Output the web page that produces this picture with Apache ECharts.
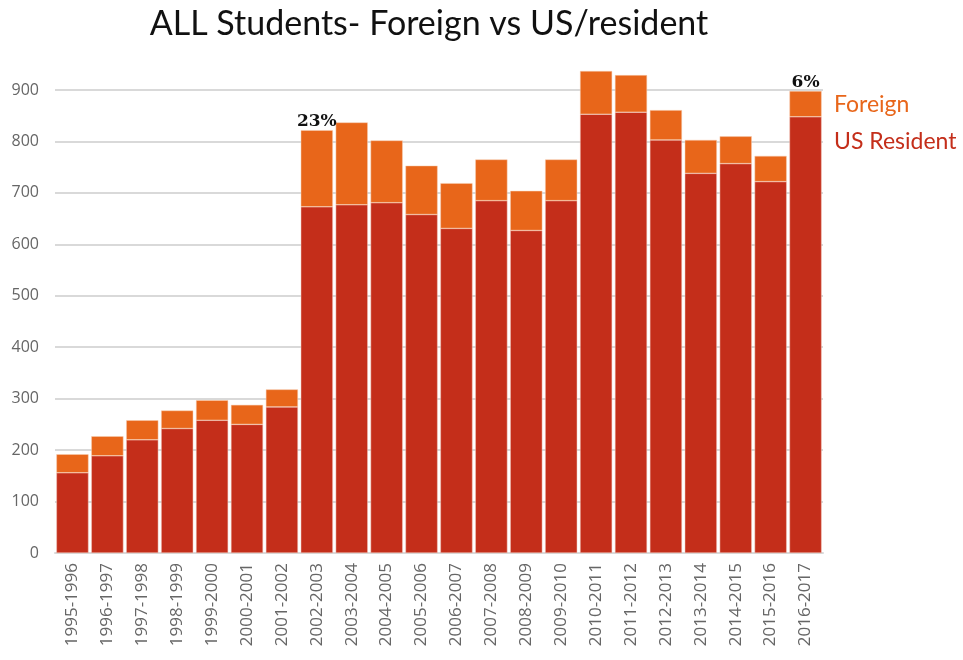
<!DOCTYPE html>
<html>
<head>
<meta charset="utf-8">
<script src="https://cdn.jsdelivr.net/npm/echarts@6/dist/echarts.min.js"></script>
<style>
  html, body { margin: 0; padding: 0; background: #fff; }
  #chart { width: 963px; height: 660px; }
</style>
</head>
<body>
<div id="chart"></div>
<script>
// school years
const years = ['1995-1996', '1996-1997', '1997-1998', '1998-1999', '1999-2000', '2000-2001',
  '2001-2002', '2002-2003', '2003-2004', '2004-2005', '2005-2006', '2006-2007', '2007-2008',
  '2008-2009', '2009-2010', '2010-2011', '2011-2012', '2012-2013', '2013-2014', '2014-2015',
  '2015-2016', '2016-2017'];
// US resident students (bottom part)
const usResident = [156, 189, 220, 242, 258, 250, 284, 673, 677, 681, 658, 631, 685, 627, 685,
  853, 857, 803, 738, 757, 722, 848];
// foreign students (top part)
const foreign = [36, 38, 38, 35, 39, 38, 34, 149, 160, 121, 95, 88, 80, 77, 80,
  84, 72, 58, 65, 53, 50, 50];
// percent notes above two bars
const notes = ['', '', '', '', '', '', '', '23%', '', '', '', '', '', '', '', '', '', '', '', '', '', '6%'];

const colorUS = '#c42e1a';
const colorForeign = '#e8661a';

var myChart = echarts.init(document.getElementById('chart'));
myChart.setOption({
  animation: false,
  title: {
    text: 'ALL Students- Foreign vs US/resident',
    left: 424,
    textAlign: 'center',
    top: 2,
    textStyle: {
      fontFamily: 'Lato',
      fontWeight: 'normal',
      fontSize: 34,
      color: '#111'
    }
  },
  legend: {
    orient: 'vertical',
    left: 824,
    top: 88,
    icon: 'none',
    itemWidth: 0,
    itemGap: 14,
    data: [
      { name: 'Foreign', textStyle: { color: colorForeign } },
      { name: 'US Resident', textStyle: { color: colorUS } }
    ],
    textStyle: { fontFamily: 'Lato', fontSize: 23 }
  },
  grid: {
    left: 55,
    right: 140,
    top: 38.6,
    bottom: 107,
    containLabel: false
  },
  xAxis: {
    type: 'category',
    data: years,
    axisTick: { show: false },
    axisLine: { lineStyle: { color: '#d9d9d9', width: 2 } },
    axisLabel: {
      rotate: 90,
      interval: 0,
      color: '#666',
      fontFamily: 'Open Sans',
      fontSize: 17,
      margin: 10
    }
  },
  yAxis: {
    type: 'value',
    min: 0,
    max: 1000,
    interval: 100,
    axisLine: { show: false },
    axisTick: { show: false },
    axisLabel: {
      showMaxLabel: false,
      color: '#666',
      fontFamily: 'Open Sans',
      fontSize: 16,
      margin: 16
    },
    splitLine: { showMaxLine: false, lineStyle: { color: '#d9d9d9', width: 2 } }
  },
  series: [
    {
      name: 'US Resident',
      type: 'bar',
      stack: 'all',
      barCategoryGap: '8%',
      itemStyle: { color: colorUS, borderColor: '#f3c9bd', borderWidth: 0.5 },
      data: usResident
    },
    {
      name: 'Foreign',
      type: 'bar',
      stack: 'all',
      itemStyle: { color: colorForeign, borderColor: '#f6cfb3', borderWidth: 0.5 },
      label: {
        show: true,
        position: 'top',
        distance: 0,
        formatter: p => notes[p.dataIndex],
        fontFamily: 'DejaVu Serif',
        fontWeight: 'bold',
        fontSize: 17,
        color: '#111'
      },
      data: foreign
    }
  ]
});
</script>
</body>
</html>
